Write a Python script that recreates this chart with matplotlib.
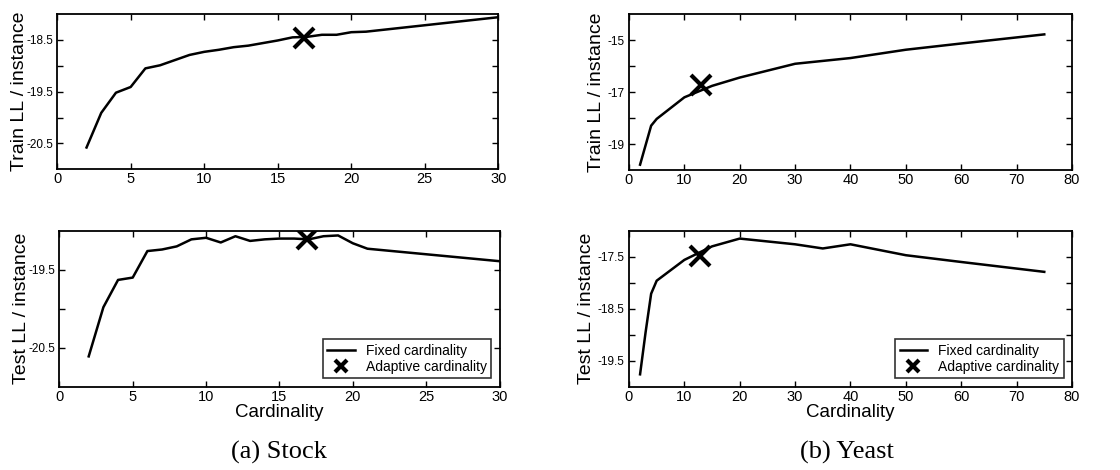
import matplotlib.pyplot as plt
import numpy as np

plt.rcParams['font.family'] = ['Liberation Sans', 'DejaVu Sans']

# Stock data
stock_k = [2, 3, 4, 5, 6, 7, 8, 9, 10, 11, 12, 13, 14, 15, 16, 17, 18, 19, 20, 21, 30]
stock_train = [-20.58, -19.91, -19.52, -19.41, -19.05, -18.99, -18.89, -18.79, -18.73, -18.69,
               -18.64, -18.61, -18.56, -18.51, -18.45, -18.44, -18.40, -18.40, -18.35, -18.34, -18.06]
stock_test = [-20.61, -19.98, -19.63, -19.60, -19.26, -19.24, -19.20, -19.11, -19.09, -19.15,
              -19.07, -19.13, -19.11, -19.10, -19.10, -19.11, -19.07, -19.06, -19.16, -19.23, -19.39]
stock_adapt_k = [16.8, 16.9]
stock_adapt = [-18.46, -19.10]

# Yeast data
yeast_k_train = [2, 4, 5, 10, 15, 20, 30, 40, 50, 60, 75]
yeast_train = [-19.79, -18.29, -18.03, -17.20, -16.76, -16.44, -15.91, -15.69, -15.37, -15.13, -14.78]
yeast_k_test = [2, 3, 4, 5, 10, 15, 20, 30, 35, 40, 50, 60, 75]
yeast_test = [-19.76, -18.95, -18.21, -17.96, -17.56, -17.30, -17.15, -17.26, -17.34, -17.26,
              -17.47, -17.60, -17.79]
yeast_adapt_k = [13.0, 12.9]
yeast_adapt = [-16.74, -17.49]

fig = plt.figure(figsize=(11.2, 4.7), dpi=100)


def panel(rect, x, y, ax_k, ay, xlim, xticks, ylim, yticks, ylabels, ylab, xlab=None,
          legend=False, ypad=2):
    ax = fig.add_axes(rect)
    ax.plot(x, y, color='black', lw=1.8, label='Fixed cardinality')
    ax.plot([ax_k], [ay], linestyle='none', marker='x', ms=14, mew=3, color='black',
            label='Adaptive cardinality')
    ax.set_xlim(xlim)
    ax.set_ylim(ylim)
    ax.set_xticks(xticks)
    ax.set_yticks(yticks)
    ax.set_yticklabels(ylabels)
    ax.tick_params(direction='in', top=True, right=True, length=4, width=1)
    ax.tick_params(axis='x', labelsize=10.5, pad=2)
    ax.tick_params(axis='y', labelsize=8.5, pad=3)
    for s in ax.spines.values():
        s.set_linewidth(1.3)
    ax.set_ylabel(ylab, fontsize=14, labelpad=ypad)
    if xlab:
        ax.set_xlabel(xlab, fontsize=13.5, labelpad=0)
    if legend:
        h, l = ax.get_legend_handles_labels()
        leg = ax.legend(h, l, loc='lower right', fontsize=10, frameon=True, fancybox=False,
                        borderaxespad=0.6, handlelength=2.0, markerscale=0.6,
                        borderpad=0.3, labelspacing=0.2)
        leg.get_frame().set_edgecolor('black')
        leg.get_frame().set_linewidth(1.2)
    return ax


def ticklabels(vals, show):
    return [('%g' % v if v in show else '') for v in vals]


st_y = [-20.5, -20, -19.5, -19, -18.5]
panel([0.051, 0.640, 0.394, 0.330], stock_k, stock_train, stock_adapt_k[0], stock_adapt[0],
      (0, 30), range(0, 31, 5), (-21, -18), st_y, ticklabels(st_y, [-18.5, -19.5, -20.5]),
      'Train LL / instance', ypad=-1.5)
st2_y = [-20.5, -20, -19.5]
panel([0.053, 0.177, 0.393, 0.332], stock_k, stock_test, stock_adapt_k[1], stock_adapt[1],
      (0, 30), range(0, 31, 5), (-21, -19), st2_y, ticklabels(st2_y, [-19.5, -20.5]),
      'Test LL / instance', 'Cardinality', True, ypad=-1.5)
ye_y = [-19, -18, -17, -16, -15]
panel([0.5616, 0.638, 0.3955, 0.332], yeast_k_train, yeast_train, yeast_adapt_k[0], yeast_adapt[0],
      (0, 80), range(0, 81, 10), (-20, -14), ye_y, ticklabels(ye_y, [-15, -17, -19]),
      'Train LL / instance')
ye2_y = [-19.5, -19, -18.5, -18, -17.5]
panel([0.5616, 0.177, 0.3955, 0.332], yeast_k_test, yeast_test, yeast_adapt_k[1], yeast_adapt[1],
      (0, 80), range(0, 81, 10), (-20, -17), ye2_y, ticklabels(ye2_y, [-17.5, -18.5, -19.5]),
      'Test LL / instance', 'Cardinality', True)

fig.text(0.249, 0.025, '(a) Stock', family='Liberation Serif', fontsize=19, ha='center')
fig.text(0.756, 0.025, '(b) Yeast', family='Liberation Serif', fontsize=19, ha='center')

fig.savefig('out.png', dpi=100)
